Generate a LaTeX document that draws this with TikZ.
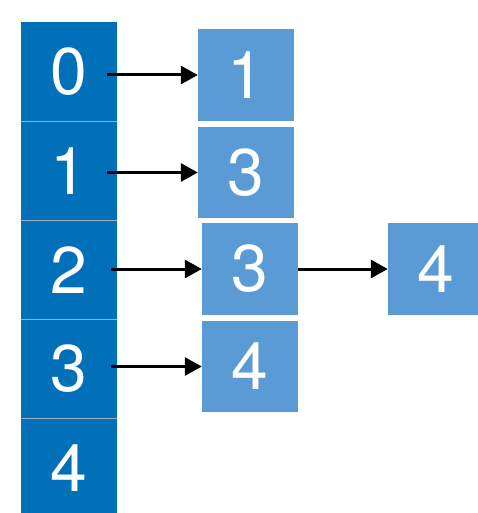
\documentclass[tikz,border=0pt]{standalone}
\usepackage{fontspec}
\setmainfont{TeX Gyre Heros}
\usetikzlibrary{arrows.meta}
\definecolor{slotblue}{RGB}{0,112,184}
\definecolor{itemblue}{RGB}{91,155,213}
\definecolor{sepgray}{RGB}{160,175,190}

\begin{document}
\begin{tikzpicture}[x=1pt,y=-1pt]
\tikzstyle{every node}+=[inner sep=0pt]
\tikzstyle{slot}=[fill=slotblue,text=white,minimum width=96pt,minimum height=99pt,font=\fontsize{66}{66}\selectfont]
\tikzstyle{item}=[fill=itemblue,text=white,minimum width=96pt,minimum height=92pt,font=\fontsize{66}{66}\selectfont]
\tikzstyle{link}=[black,line width=3pt,-{Triangle[length=17pt,width=18pt]}]
\tikzstyle{sep}=[sepgray,line width=1pt]
\useasboundingbox (0,0) rectangle (477,513);
% table column
\node [slot] (s0) at (69,72) {0};
\node [slot] (s1) at (69,171) {1};
\node [slot] (s2) at (69,270) {2};
\node [slot] (s3) at (69,369) {3};
\node [slot] (s4) at (69,468) {4};
\draw [sep] (s0.south west) -- (s0.south east);
\draw [sep] (s1.south west) -- (s1.south east);
\draw [sep] (s2.south west) -- (s2.south east);
\draw [sep] (s3.south west) -- (s3.south east);
% lists
\node [item] (a0) at (246,75) {1};
\node [item,minimum height=91pt] (a1) at (246,172.5) {3};
\node [item] (a2) at (250,269) {3};
\node [item] (a2b) at (436,269) {4};
\node [item,minimum height=91pt] (a3) at (250,366.5) {4};
% links
\draw [link] ([xshift=-10pt]s0.east |- a0.west) -- (a0.west);
\draw [link] ([xshift=-10pt]s1.east |- a1.west) -- (a1.west);
\draw [link] ([xshift=-6pt]s2.east |- a2.west) -- (a2.west);
\draw [link] (a2.east) -- (a2b.west);
\draw [link] ([xshift=-6pt]s3.east |- a3.west) -- (a3.west);
\end{tikzpicture}
\end{document}
